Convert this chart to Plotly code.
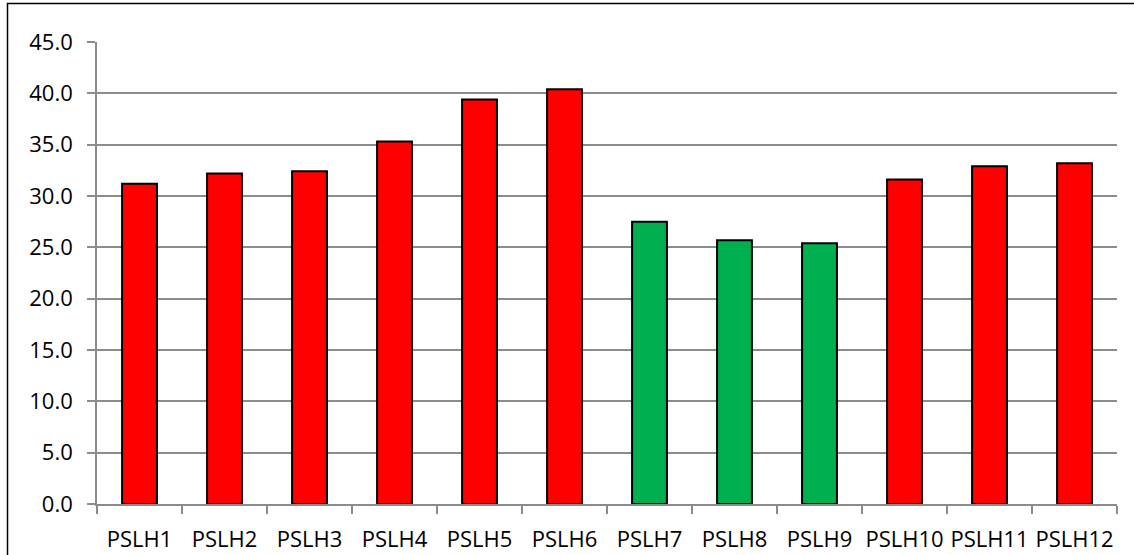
import plotly.graph_objects as go

categories = ["PSLH1", "PSLH2", "PSLH3", "PSLH4", "PSLH5", "PSLH6",
              "PSLH7", "PSLH8", "PSLH9", "PSLH10", "PSLH11", "PSLH12"]
values = [31.2, 32.2, 32.4, 35.3, 39.4, 40.4, 27.5, 25.7, 25.4, 31.6, 32.9, 33.2]
bar_colors = ["#FF0000"] * 6 + ["#00B050"] * 3 + ["#FF0000"] * 3

W, H = 1134, 555
L, R, T, B = 97, 17, 42, 51
pw, ph = W - L - R, H - T - B

fig = go.Figure(go.Bar(
    x=categories,
    y=values,
    marker=dict(color=bar_colors, line=dict(color="#000000", width=2)),
))

grid = "#8C8C8C"
font = dict(family="Open Sans, Lato, sans-serif", size=22, color="#000000")

fig.update_layout(
    width=W, height=H,
    margin=dict(l=L, r=R, t=T, b=B),
    paper_bgcolor="white", plot_bgcolor="white",
    bargap=0.59,
    showlegend=False,
    font=font,
    xaxis=dict(
        showline=True, linecolor=grid, linewidth=1.7,
        ticks="outside", ticklen=8, tickcolor=grid, tickwidth=1.7,
        tickson="boundaries", showgrid=False, tickangle=0, automargin=False,
        tickfont=font, ticklabelstandoff=15,
    ),
    yaxis=dict(
        range=[0, 45], dtick=5, tickformat=".1f",
        showline=True, linecolor=grid, linewidth=1.7,
        ticks="outside", ticklen=8, tickcolor=grid, tickwidth=1.7,
        showgrid=True, gridcolor=grid, gridwidth=1.7, automargin=False,
        zeroline=False, tickfont=font, ticklabelstandoff=10,
    ),
    shapes=[dict(
        type="rect", xref="paper", yref="paper",
        x0=(7.5 - L) / pw, x1=1.2,
        y0=-0.3, y1=1 + (T - 3.5) / ph,
        line=dict(color="#000000", width=1.5), fillcolor="rgba(0,0,0,0)",
        layer="below",
    )],
)

fig.write_html("out.html")
